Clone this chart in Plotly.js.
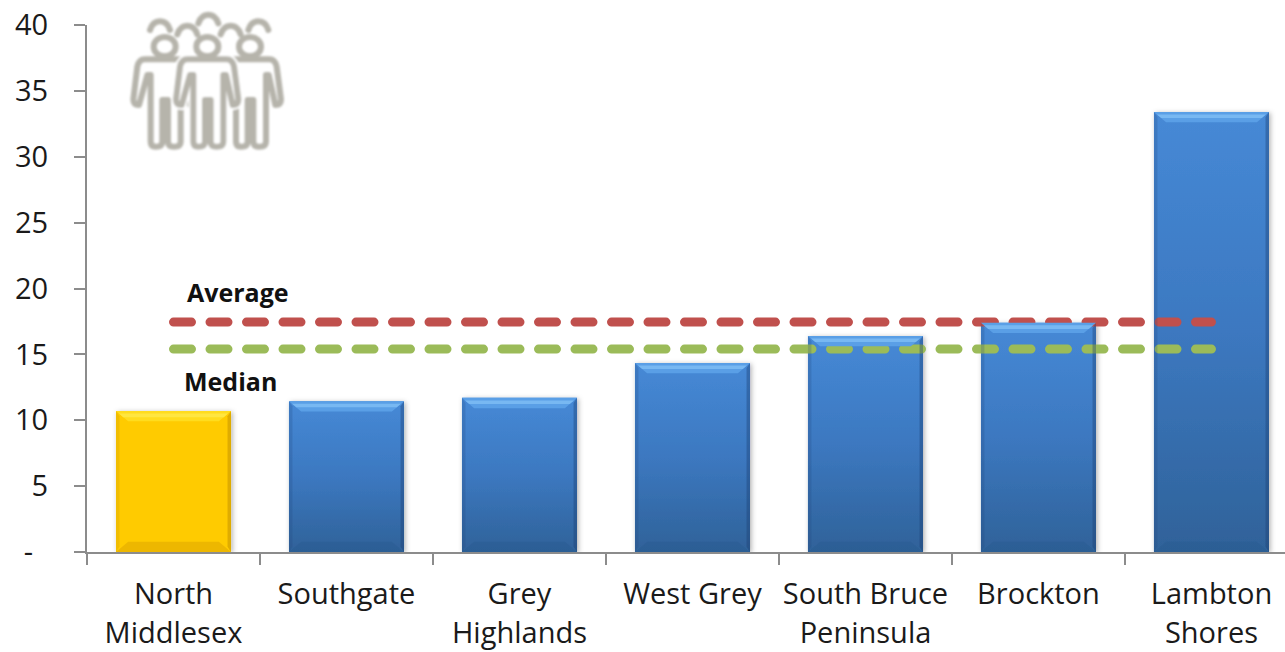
<!DOCTYPE html>
<html>
<head>
<meta charset="utf-8">
<script src="https://cdn.plot.ly/plotly-3.0.1.min.js"></script>
<style>html,body{margin:0;padding:0;background:#fff;overflow:hidden}</style>
</head>
<body>
<div id="chart" style="width:1285px;height:652px"></div>
<script>
// Municipalities ranked by value, with the peer average and median as reference lines
const categories = ["North<br>Middlesex", "Southgate", "Grey<br>Highlands", "West Grey", "South Bruce<br>Peninsula", "Brockton", "Lambton<br>Shores"];
const values = [10.7, 11.45, 11.7, 14.35, 16.4, 17.4, 33.4];
const average = [17.45, 17.45, 17.45, 17.45, 17.45, 17.45, 17.45];
const median = [15.4, 15.4, 15.4, 15.4, 15.4, 15.4, 15.4];
const yTicks = [0, 5, 10, 15, 20, 25, 30, 35, 40];
const yTickLabels = ["-\u00a0\u00a0", "5", "10", "15", "20", "25", "30", "35", "40"];
const HIGHLIGHT = 0;   // index of the gold bar

const BAR_WIDTH = 0.665;
const BEVEL_X = 0.07;  // bevel depth, category units
const BEVEL_Y = 0.78;  // bevel depth, value units
const SIDE_X = 0.02;   // side facet width, category units

const half = BAR_WIDTH / 2;
const FONT = "'Open Sans', sans-serif";

// A filled polygon on the bar's own axes
function facet(x, y, fillcolor) {
  return {
    type: "scatter", mode: "lines", fill: "toself", hoverinfo: "skip", showlegend: false,
    xaxis: "x2", x, y, line: {width: 0}, fillcolor
  };
}
const bevels = [];
values.forEach((v, i) => {
  const gold = i === HIGHLIGHT;
  const l = i - half, r = i + half;
  const by = BEVEL_Y;
  // sides
  bevels.push(facet([l, l + SIDE_X, l + SIDE_X, l, l], [0, by * 0.5, v - by * 0.5, v, 0],
    gold ? "rgba(190,140,0,0.22)" : "rgba(30,70,125,0.22)"));
  bevels.push(facet([r, r - SIDE_X, r - SIDE_X, r, r], [0, by * 0.5, v - by * 0.5, v, 0],
    gold ? "rgba(170,120,0,0.38)" : "rgba(25,60,110,0.38)"));
  // top bevel, with a lighter band through its middle
  bevels.push(facet([l, r, r - BEVEL_X, l + BEVEL_X, l], [v, v, v - by, v - by, v],
    gold ? "#ffdc1e" : "#5a9fe6"));
  bevels.push(facet([l + BEVEL_X * 0.25, r - BEVEL_X * 0.25, r - BEVEL_X * 0.6, l + BEVEL_X * 0.6, l + BEVEL_X * 0.25],
    [v - by * 0.25, v - by * 0.25, v - by * 0.6, v - by * 0.6, v - by * 0.25],
    gold ? "#ffe640" : "#78b8f2"));
  // bottom bevel
  bevels.push(facet([l, r, r - BEVEL_X, l + BEVEL_X, l], [0, 0, by, by, 0],
    gold ? "rgba(215,160,0,0.45)" : "rgba(35,85,140,0.3)"));
});

const traces = [
  {
    type: "bar", x: categories, y: values, width: BAR_WIDTH, showlegend: false,
    marker: {color: values.map((_, i) => i === HIGHLIGHT ? "#ffcb05" : "#3d7cc4"), line: {width: 0}}
  },
  ...bevels,
  {type: "scatter", mode: "lines", x: categories, y: average, showlegend: false, name: "Average",
   line: {color: "#c0504d", width: 9, dash: "18px,18.5px"}},
  {type: "scatter", mode: "lines", x: categories, y: median, showlegend: false, name: "Median",
   line: {color: "#9bbb59", width: 9, dash: "18px,18.5px"}}
];

// Line-art group of three standing figures with three more heads behind them
const personOutline = "M262 178 Q245 178 240 200 L228 298 Q228 315 245 315 L270 225 L280 225 L280 425 Q280 440 295 440 " +
  "Q315 440 315 425 L315 300 L332 300 L332 425 Q332 440 350 440 Q370 440 370 425 L370 225 L378 225 L398 315 Q415 315 415 298 " +
  "L402 200 Q397 178 380 178 Z";
const iconArc = (x, y) => `<path d="M${x - 30} ${y + 26} Q${x - 22} ${y} ${x} ${y} Q${x + 22} ${y} ${x + 30} ${y + 26}"/>`;
const iconHead = x => `<ellipse cx="${x}" cy="140" rx="33" ry="29"/>`;
const iconSvg = `<svg xmlns="http://www.w3.org/2000/svg" width="660" height="510" viewBox="0 0 660 510">` +
  `<defs><filter id="soft"><feGaussianBlur stdDeviation="2.6"/></filter></defs>` +
  `<g filter="url(#soft)" fill="none" stroke="#b6b4ab" stroke-width="18" stroke-linecap="round" stroke-linejoin="round">` +
  iconArc(180, 64) + iconArc(262, 77) + iconArc(325, 44) + iconArc(392, 77) + iconArc(475, 64) +
  `<g transform="translate(-128 0)"><path d="${personOutline}"/>${iconHead(322)}</g>` +
  `<g transform="translate(128 0)"><path d="${personOutline}"/>${iconHead(322)}</g>` +
  `<path d="${personOutline}" fill="#fff" stroke="#fff" stroke-width="30"/>` +
  `<path d="${personOutline}"/>${iconHead(322)}` +
  `</g></svg>`;

const layout = {
  width: 1285, height: 652,
  paper_bgcolor: "#fff", plot_bgcolor: "#fff",
  margin: {l: 87, r: 0, t: 25, b: 100},
  bargap: 0.335,
  font: {family: FONT, color: "#1a1a1a"},
  xaxis: {
    type: "category", categoryorder: "array", categoryarray: categories,
    range: [-0.5, 6.425], tickson: "boundaries", tickangle: 0,
    showline: true, linecolor: "#8c8c8c", linewidth: 2,
    ticks: "outside", ticklen: 11, tickwidth: 2, tickcolor: "#8c8c8c",
    ticklabelstandoff: 15,
    tickfont: {size: 29, family: FONT, color: "#1a1a1a"},
    showgrid: false, zeroline: false, automargin: false
  },
  xaxis2: {
    overlaying: "x", type: "linear", range: [-0.5, 6.425], visible: false, fixedrange: true
  },
  yaxis: {
    range: [0, 40], tickmode: "array", tickvals: yTicks, ticktext: yTickLabels,
    showline: true, linecolor: "#8c8c8c", linewidth: 2,
    ticks: "outside", ticklen: 11, tickwidth: 2, tickcolor: "#8c8c8c",
    ticklabelstandoff: 20,
    tickfont: {size: 29, family: FONT, color: "#1a1a1a"},
    showgrid: false, zeroline: false, automargin: false
  },
  annotations: [
    {text: "<b>Average</b>", xref: "paper", yref: "y", x: 0.126, y: 19.75, xanchor: "center", showarrow: false,
     font: {size: 25, family: FONT, color: "#111"}},
    {text: "<b>Median</b>", xref: "paper", yref: "y", x: 0.1202, y: 12.95, xanchor: "center", showarrow: false,
     font: {size: 25, family: FONT, color: "#111"}}
  ],
  images: [{
    source: "data:image/svg+xml;charset=utf-8," + encodeURIComponent(iconSvg),
    xref: "paper", yref: "paper", x: 13 / 1198, y: 1 + 25 / 527, sizex: 220 / 1198, sizey: 170 / 527,
    sizing: "stretch", xanchor: "left", yanchor: "top", layer: "above"
  }]
};

Plotly.newPlot("chart", traces, layout, {displayModeBar: false, staticPlot: true}).then(gd => {
  const svg = gd.querySelector(".main-svg");
  const ns = "http://www.w3.org/2000/svg";
  const defs = document.createElementNS(ns, "defs");
  defs.innerHTML =
    '<linearGradient id="blueBar" x1="0" y1="0" x2="0" y2="1">' +
    '<stop offset="0" stop-color="#4689d6"/><stop offset="0.5" stop-color="#3c78c0"/><stop offset="1" stop-color="#2f6299"/>' +
    '</linearGradient>' +
    '<filter id="barShadow" x="-5%" y="-5%" width="112%" height="110%">' +
    '<feDropShadow dx="1.5" dy="1" stdDeviation="2.5" flood-color="#000" flood-opacity="0.3"/></filter>';
  svg.appendChild(defs);
  gd.querySelectorAll(".bars .point path").forEach((p, i) => {
    if (i !== HIGHLIGHT) p.style.fill = "url(#blueBar)";
    p.setAttribute("filter", "url(#barShadow)");
  });
  // Round the dash ends of the two reference lines
  gd.querySelectorAll(".scatterlayer .trace .js-line").forEach(p => {
    if (p.style.strokeDasharray && p.style.strokeDasharray !== "none") p.style.strokeLinecap = "round";
  });
  // Wider leading for the two-line category labels
  gd.querySelectorAll(".xtick text tspan.line:not(:first-child)").forEach(t => t.setAttribute("dy", "39px"));
});
</script>
</body>
</html>
